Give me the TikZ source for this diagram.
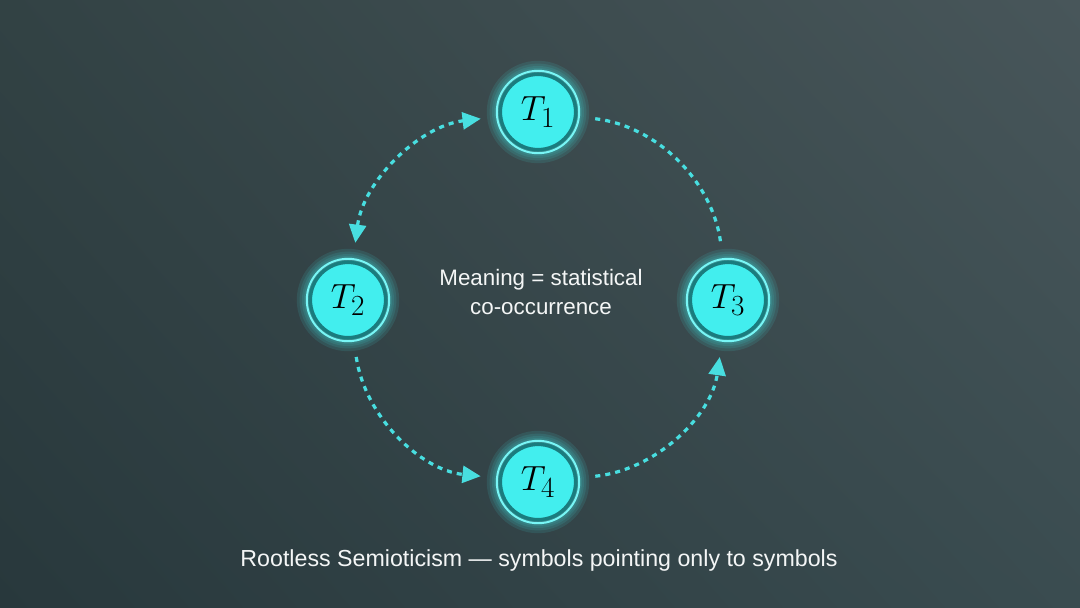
\documentclass[tikz,border=0pt]{standalone}
\usepackage{fontspec}
\setmainfont{Liberation Sans}
\usetikzlibrary{arrows.meta,shadings}

\definecolor{bgtl}{RGB}{50,66,68}
\definecolor{bgtr}{RGB}{72,86,90}
\definecolor{bgbl}{RGB}{40,56,60}
\definecolor{bgbr}{RGB}{58,76,80}
\definecolor{tokfill}{RGB}{66,238,238}
\definecolor{tokring}{RGB}{26,124,126}
\definecolor{tokedge}{RGB}{120,246,246}
\definecolor{flowcol}{RGB}{72,222,224}
\definecolor{txtcol}{RGB}{244,246,246}

\tikzset{
  token/.style={circle, minimum size=1.88cm, inner sep=0pt, fill=tokfill,
    draw=tokring, line width=2.4pt, font=\Huge},
  edge ring/.style={draw=tokedge, line width=1.4pt},
  halo/.style={fill=tokfill, fill opacity=0.11},
  flow/.style={flowcol, line width=2.3pt, dash pattern=on 3.6pt off 3.6pt,
    shorten <=13pt, shorten >=13pt, >={Triangle[length=13pt,width=12pt]}},
  label/.style={text=txtcol, align=center}
}

\begin{document}
\begin{tikzpicture}[x=0.025cm, y=-0.025cm]
  % background
  \useasboundingbox (0,0) rectangle (1080,607);
  \shade[upper left=bgtl, upper right=bgtr, lower left=bgbl, lower right=bgbr]
    (0,0) rectangle (1080,607);

  % token positions
  \coordinate (p1) at (538,112);
  \coordinate (p2) at (348,300);
  \coordinate (p3) at (728,300);
  \coordinate (p4) at (538,482);

  % soft glow behind the tokens
  \foreach \p in {p1,p2,p3,p4} {
    \foreach \r in {1.06,1.10,1.15,1.21,1.28}
      \fill[halo] (\p) circle[radius=\r cm];
  }

  % tokens
  \node[token] (t1) at (p1) {$T_1$};
  \node[token] (t2) at (p2) {$T_2$};
  \node[token] (t3) at (p3) {$T_3$};
  \node[token] (t4) at (p4) {$T_4$};
  \foreach \t in {t1,t2,t3,t4}
    \draw[edge ring] (\t.center) circle[radius=1.03cm];

  % co-occurrence links
  \draw[flow, <->] (t1) to[bend right=38] (t2);
  \draw[flow] (t1) to[bend left=38] (t3);
  \draw[flow, ->] (t2) to[bend right=38] (t4);
  \draw[flow, ->] (t4) to[bend right=38] (t3);

  % texts
  \node[label, font=\fontsize{15.9}{20}\selectfont] (meaning) at (541,292)
    {Meaning = statistical\\co-occurrence};
  \node[label, font=\fontsize{16.5}{19}\selectfont] (caption) at (539,560)
    {Rootless Semioticism — symbols pointing only to symbols};
\end{tikzpicture}
\end{document}
